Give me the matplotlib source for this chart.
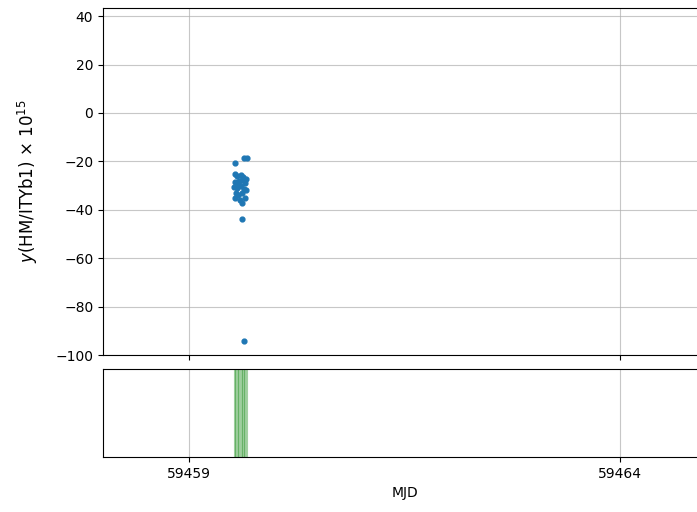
import matplotlib
matplotlib.use("Agg")
import matplotlib.pyplot as plt

# fechas (MJD) y valores
mjd = [59459.535, 59459.640, 59459.670, 59459.530, 59459.550, 59459.600,
       59459.625, 59459.660, 59459.535, 59459.560, 59459.580, 59459.610,
       59459.650, 59459.520, 59459.550, 59459.600, 59459.630, 59459.660,
       59459.540, 59459.570, 59459.610, 59459.650, 59459.530, 59459.590,
       59459.610, 59459.615, 59459.630]
y_val = [-20.8, -18.5, -18.5, -25.3, -26.0, -25.5,
         -26.5, -27.2, -28.5, -29.0, -28.0, -27.8,
         -28.9, -30.5, -31.0, -30.0, -31.5, -32.0,
         -33.0, -34.0, -33.2, -35.0, -35.2, -36.0,
         -37.0, -43.8, -94.2]
xticks = [59459, 59464]

fig = plt.figure(figsize=(6.97, 5.12), dpi=100)
ax = fig.add_axes([0.1478, 0.3066, 0.866, 0.6774])
ax2 = fig.add_axes([0.1478, 0.1074, 0.866, 0.1718], sharex=ax)

# panel superior: datos
ax.scatter(mjd, y_val, s=12, color='tab:blue', zorder=3)
ax.set_ylim(-100, 43.3)
ax.set_xlim(59458, 59465)
ax.set_xticks(xticks)
ax.tick_params(axis='x', labelbottom=False)
ax.grid(True, color='#b0b0b0', alpha=0.7, linewidth=0.8)
ax.set_ylabel(r"$y$(HM/ITYb1) $\times\ 10^{15}$", fontsize=12, labelpad=11)

# panel inferior: marcas de tiempo
for t in sorted(set(mjd)):
    ax2.axvline(t, color='green', alpha=0.35, linewidth=0.8)
ax2.set_yticks([])
ax2.grid(True, axis='x', color='#b0b0b0', alpha=0.7, linewidth=0.8)
ax2.set_xticks(xticks)
ax2.set_xticklabels([str(t) for t in xticks])
ax2.set_xlabel("MJD")

fig.savefig("out.png", dpi=100)
